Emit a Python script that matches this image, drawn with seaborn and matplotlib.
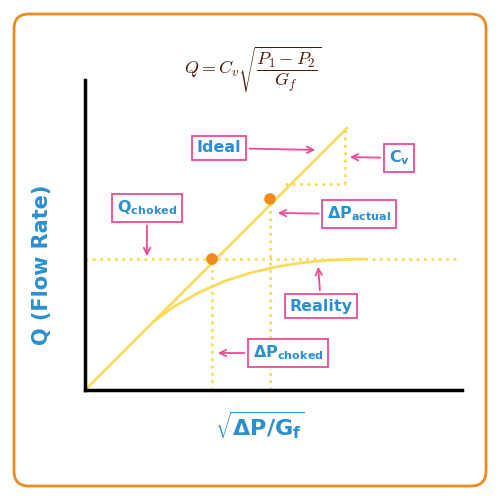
import matplotlib
matplotlib.use("Agg")
import matplotlib.pyplot as plt
import seaborn as sns
import numpy as np
import pandas as pd
from matplotlib.patches import FancyBboxPatch

sns.set_style("white")
plt.rcParams['font.family'] = ['DejaVu Sans']

ideal_x = [0, 262]
ideal_y = [0, 262]
reality_x = [68, 90, 115, 140, 165, 190, 215, 240, 265, 280]
reality_y = [68, 84, 98, 109, 117, 123, 127, 129.5, 130.7, 131]
points_x = [127, 185]
points_y = [131, 191]
q_choked = 131

BLUE = "#2a8fd0"; PINK = "#ec4b94"; YEL = "#f9dc5c"; ORG = "#f08a1c"

fig = plt.figure(figsize=(5, 5), dpi=100)
fig.patches.append(FancyBboxPatch((0.028, 0.028), 0.944, 0.944, boxstyle="round,pad=0,rounding_size=0.03",
                                  transform=fig.transFigure, fill=False, ec=ORG, lw=2))
ax = fig.add_axes([0.17, 0.22, 0.754, 0.62])
ax.set_xlim(0, 377); ax.set_ylim(0, 310)
sns.despine(ax=ax)
for s in ["left", "bottom"]:
    ax.spines[s].set_linewidth(2.5); ax.spines[s].set_color("black")
ax.set_xticks([]); ax.set_yticks([])

sns.lineplot(x=ideal_x, y=ideal_y, ax=ax, color=YEL, lw=2)
sns.lineplot(x=reality_x, y=reality_y, ax=ax, color=YEL, lw=2)
ax.plot([0, 373], [q_choked, q_choked], ls=":", color=YEL, lw=2)
for px, py in zip(points_x, points_y):
    ax.plot([px, px], [0, py], ls=":", color=YEL, lw=2)
ax.plot([200, 260], [206, 206], ls=":", color=YEL, lw=2)
ax.plot([260, 260], [206, 262], ls=":", color=YEL, lw=2)
sns.scatterplot(x=points_x, y=points_y, ax=ax, color=ORG, s=70, zorder=5, edgecolor="none")

def lab(text, xy, xytext):
    ax.annotate(text, xy=xy, xytext=xytext, ha="center", va="center", color=BLUE, fontsize=11.5,
                fontweight="bold", annotation_clip=False,
                bbox=dict(boxstyle="square,pad=0.3", fc="white", ec=PINK, lw=1.3),
                arrowprops=dict(arrowstyle="->", color=PINK, lw=1.3))

lab("Ideal", (233, 240), (134, 242))
lab("C$_\\mathbf{v}$", (262, 233), (314, 232))
lab("Q$_\\mathbf{choked}$", (62, 131), (62, 182))
lab("ΔP$_\\mathbf{actual}$", (190, 177), (274, 176))
lab("Reality", (233, 126), (236, 84))
lab("ΔP$_\\mathbf{choked}$", (130, 37), (203, 37))

fig.text(0.505, 0.86, r"$Q = C_v\sqrt{\dfrac{P_1 - P_2}{G_f}}$", ha="center", va="center",
         fontsize=13, color="#4a1a0a", math_fontfamily="cm")
fig.text(0.085, 0.47, "Q (Flow Rate)", rotation=90, ha="center", va="center", color=BLUE,
         fontsize=15, fontweight="bold")
fig.text(0.52, 0.15, r"$\mathbf{\sqrt{\Delta P/G_f}}$", ha="center", va="center", color=BLUE, fontsize=16)
fig.savefig("out.png", dpi=100)
